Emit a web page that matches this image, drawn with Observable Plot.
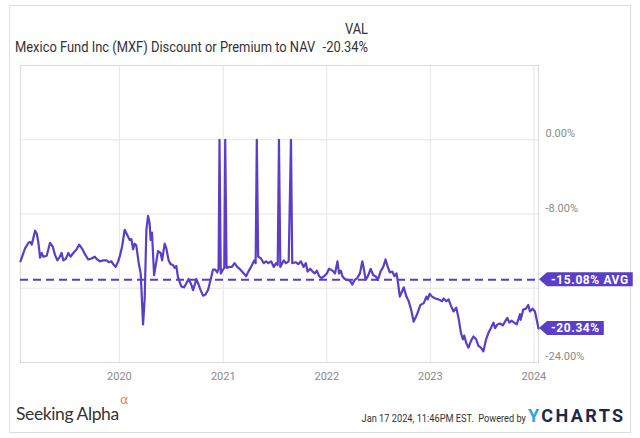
<!DOCTYPE html>
<html>
<head>
<meta charset="utf-8">
<script src="https://cdn.jsdelivr.net/npm/d3@7"></script>
<script src="https://cdn.jsdelivr.net/npm/@observablehq/plot@0.6"></script>
<style>
  html, body { margin: 0; padding: 0; background: #fff; }
  body { width: 640px; height: 438px; position: relative; overflow: hidden; font-family: Roboto, "Noto Sans", sans-serif; }
  #card { position: absolute; left: 9px; top: 5px; width: 620px; height: 426px; border: 1px solid #dcdcdc; border-left-color: #e4e4e4; }
  #chart { position: absolute; left: 0; top: 0; }
  .t { position: absolute; white-space: nowrap; color: #333; line-height: 1; }
  #title { left: 15px; top: 40px; font-size: 15px; transform: scaleX(0.86); transform-origin: left top; }
  #valhead { left: 300px; width: 68px; text-align: right; top: 22px; font-size: 15px; transform: scaleX(0.86); transform-origin: right top; }
  #valnum { left: 300px; width: 68px; text-align: right; top: 40px; font-size: 15px; transform: scaleX(0.86); transform-origin: right top; }
  #sa { left: 16px; top: 405px; font-family: Lato, sans-serif; font-size: 17.5px; color: #333; letter-spacing: -0.4px; }
  #alpha { left: 120px; top: 393px; font-family: "DejaVu Sans", sans-serif; font-size: 13px; color: #f0883e; }
  #stamp { left: 300px; width: 226px; text-align: right; top: 413px; font-size: 11px; color: #333; transform: scaleX(0.84); transform-origin: right top; }
  #yc { left: 528px; top: 407px; font-size: 18px; font-weight: 700; letter-spacing: 2.4px; color: #1e2a4d; }
  #yc span { color: #2aa4e4; }
</style>
</head>
<body>
<div id="card"></div>
<div id="chart"></div>
<div class="t" id="title">Mexico Fund Inc (MXF) Discount or Premium to NAV</div>
<div class="t" id="valhead">VAL</div>
<div class="t" id="valnum">-20.34%</div>
<div class="t" id="sa">Seeking Alpha</div>
<div class="t" id="alpha">α</div>
<div class="t" id="stamp">Jan 17 2024, 11:46PM EST.&nbsp; Powered by</div>
<div class="t" id="yc"><span>Y</span>CHARTS</div>
<script>
// ---- Data (decimal years, premium/discount in %) ----
const years = [
  2019.045, 2019.089, 2019.122, 2019.137, 2019.154, 2019.186, 2019.202, 2019.218, 2019.234, 2019.250,
  2019.266, 2019.298, 2019.330, 2019.356, 2019.378, 2019.401, 2019.426, 2019.442, 2019.459, 2019.484,
  2019.507, 2019.529, 2019.555, 2019.587, 2019.612, 2019.644, 2019.666, 2019.699, 2019.731, 2019.762,
  2019.786, 2019.811, 2019.843, 2019.875, 2019.901, 2019.923, 2019.939, 2019.964, 2019.988, 2020.003,
  2020.026, 2020.051, 2020.077, 2020.099, 2020.115, 2020.132, 2020.147, 2020.163, 2020.186, 2020.205,
  2020.228, 2020.243, 2020.260, 2020.276, 2020.291, 2020.301, 2020.314, 2020.334, 2020.356, 2020.372,
  2020.397, 2020.411, 2020.436, 2020.452, 2020.474, 2020.493, 2020.516, 2020.532, 2020.548, 2020.564,
  2020.596, 2020.622, 2020.644, 2020.666, 2020.692, 2020.709, 2020.724, 2020.740, 2020.763, 2020.782,
  2020.805, 2020.827, 2020.853, 2020.878, 2020.901, 2020.923, 2020.942, 2020.955, 2020.964, 2020.976,
  2020.997, 2021.010, 2021.019, 2021.032, 2021.061, 2021.084, 2021.109, 2021.135, 2021.166, 2021.199,
  2021.221, 2021.243, 2021.269, 2021.286, 2021.301, 2021.313, 2021.324, 2021.337, 2021.365, 2021.391,
  2021.413, 2021.436, 2021.462, 2021.488, 2021.510, 2021.526, 2021.538, 2021.551, 2021.584, 2021.606,
  2021.632, 2021.654, 2021.666, 2021.702, 2021.724, 2021.750, 2021.776, 2021.798, 2021.814, 2021.839,
  2021.863, 2021.885, 2021.904, 2021.926, 2021.949, 2021.974, 2022.000, 2022.022, 2022.055, 2022.080,
  2022.103, 2022.118, 2022.135, 2022.151, 2022.173, 2022.199, 2022.224, 2022.247, 2022.269, 2022.295,
  2022.320, 2022.343, 2022.359, 2022.375, 2022.397, 2022.423, 2022.449, 2022.471, 2022.493, 2022.519,
  2022.545, 2022.567, 2022.589, 2022.608, 2022.632, 2022.654, 2022.673, 2022.686, 2022.705, 2022.728,
  2022.743, 2022.769, 2022.791, 2022.814, 2022.839, 2022.872, 2022.904, 2022.936, 2022.962, 2022.974,
  2022.993, 2023.016, 2023.048, 2023.080, 2023.113, 2023.128, 2023.154, 2023.176, 2023.199, 2023.224,
  2023.250, 2023.272, 2023.295, 2023.314, 2023.327, 2023.346, 2023.368, 2023.391, 2023.416, 2023.442,
  2023.464, 2023.488, 2023.512, 2023.538, 2023.561, 2023.584, 2023.609, 2023.625, 2023.647, 2023.673,
  2023.699, 2023.721, 2023.743, 2023.763, 2023.786, 2023.808, 2023.834, 2023.865, 2023.872, 2023.897,
  2023.923, 2023.945, 2023.962, 2023.987, 2024.010, 2024.044
];
const values = [
  -13.1, -11.7, -11.1, -11.0, -11.3, -9.8, -10.1, -11.1, -12.7, -12.2,
  -12.6, -12.5, -11.1, -11.5, -12.4, -13.0, -12.6, -12.2, -13.0, -12.8,
  -12.2, -12.6, -12.2, -11.8, -11.3, -11.8, -12.3, -12.9, -12.8, -12.6,
  -12.9, -13.1, -13.0, -13.0, -13.2, -13.1, -13.4, -13.7, -13.1, -12.6,
  -11.5, -9.7, -10.3, -10.8, -10.7, -11.8, -11.2, -11.4, -13.3, -14.4,
  -19.9, -17.2, -9.7, -8.2, -9.0, -10.8, -10.0, -14.6, -13.1, -12.0,
  -12.2, -13.0, -11.2, -11.7, -13.0, -13.4, -13.5, -13.8, -13.6, -14.8,
  -15.8, -15.9, -15.5, -15.0, -15.6, -16.2, -15.7, -15.0, -15.6, -16.2,
  -16.8, -16.7, -16.2, -15.1, -14.0, -14.0, -14.3, -13.9, 0.0, -14.4,
  -14.0, -13.8, 0.0, -13.8, -13.7, -13.7, -13.3, -13.7, -14.0, -14.4,
  -14.7, -14.2, -13.7, -13.3, -13.0, -13.3, 0.0, -12.6, -12.8, -13.3,
  -13.1, -13.3, -13.1, -13.7, -13.3, -13.5, 0.0, -13.7, -13.0, -13.3,
  -13.1, 0.0, -13.3, -13.2, -13.4, -13.1, -13.7, -13.3, -14.2, -13.9,
  -14.2, -14.4, -14.1, -14.7, -14.9, -14.7, -14.4, -13.9, -14.1, -14.4,
  -13.1, -14.4, -14.1, -14.7, -15.0, -15.1, -15.2, -15.6, -15.1, -14.9,
  -14.4, -13.1, -14.0, -15.1, -14.7, -13.9, -14.6, -14.7, -15.1, -14.2,
  -13.7, -12.9, -13.7, -14.3, -14.2, -14.7, -14.4, -15.3, -16.9, -16.3,
  -15.9, -16.9, -17.4, -18.3, -19.6, -18.8, -17.8, -17.6, -16.9, -17.2,
  -16.6, -16.9, -17.1, -17.2, -17.4, -17.1, -17.4, -17.2, -17.9, -18.5,
  -18.1, -19.2, -20.8, -21.5, -21.1, -21.9, -22.4, -21.7, -21.2, -21.5,
  -22.2, -22.4, -22.8, -21.5, -20.8, -20.3, -19.7, -20.3, -19.9, -19.8,
  -20.0, -19.6, -19.2, -19.7, -19.5, -19.7, -19.9, -18.8, -19.4, -18.3,
  -18.2, -17.8, -18.5, -18.2, -18.5, -20.34
];
const average = -15.08;
const lastValue = -20.34;
const yTickValues = [0, -8, -24];
const yGridValues = [0, -8, -16];
const xTickYears = [2020, 2021, 2022, 2023, 2024];
const xDomainYears = [2019.045, 2024.044];
const badgeLabels = ["-15.08% AVG", "-20.34%"];

// ---- helpers ----
function yearToDate(y) {
  const yr = Math.floor(y);
  const a = Date.UTC(yr, 0, 1), b = Date.UTC(yr + 1, 0, 1);
  return new Date(a + (y - yr) * (b - a));
}
const data = years.map((y, i) => ({date: yearToDate(y), value: values[i]}));
const xTicks = xTickYears.map(y => new Date(Date.UTC(y, 0, 1)));
const purple = "#5a3ec8";

const measureCtx = document.createElement("canvas").getContext("2d");
function badges(index, scales, vals, dims) {
  const g = d3.create("svg:g");
  const x0 = dims.width - dims.marginRight + 1;
  const items = [[average, badgeLabels[0]], [lastValue, badgeLabels[1]]];
  measureCtx.font = "bold 12px Roboto";
  for (const [v, label] of items) {
    const y = scales.y(v);
    const w = measureCtx.measureText(label).width + label.length * 0.6 + 8;
    const h = 7;
    g.append("path")
      .attr("d", `M${x0},${y} L${x0 + 8},${y - h} L${x0 + 8 + w},${y - h} L${x0 + 8 + w},${y + h} L${x0 + 8},${y + h} Z`)
      .attr("fill", purple);
    g.append("text")
      .attr("x", x0 + 12)
      .attr("y", y)
      .attr("dy", "0.36em")
      .attr("text-anchor", "start")
      .attr("fill", "#fff")
      .attr("font-family", "Roboto, sans-serif")
      .attr("font-weight", 700)
      .attr("font-size", 12)
      .attr("letter-spacing", 0.6)
      .text(label);
  }
  return g.node();
}

const chart = Plot.plot({
  width: 640,
  height: 400,
  marginLeft: 20,
  marginRight: 102,
  marginTop: 65,
  marginBottom: 38,
  style: {fontFamily: "Roboto, sans-serif", background: "transparent", overflow: "visible"},
  x: {type: "utc", domain: xDomainYears.map(yearToDate), axis: null},
  y: {domain: [-24, 8], axis: null},
  marks: [
    Plot.gridX(xTicks, {stroke: "#e6e6e6", strokeOpacity: 1, strokeWidth: 1}),
    Plot.gridY(yGridValues, {stroke: "#e6e6e6", strokeOpacity: 1, strokeWidth: 1}),
    Plot.frame({stroke: "#dadada"}),
    Plot.axisX(xTicks, {tickSize: 0, tickPadding: 10, fontSize: 11, fill: "#8a8a8a", label: null,
      tickFormat: d => String(d.getUTCFullYear())}),
    Plot.axisY(yTickValues, {anchor: "right", tickSize: 0, tickPadding: 7, fontSize: 11, fill: "#8a8a8a", label: null,
      dy: -6, tickFormat: d => d.toFixed(2) + "%"}),
    Plot.ruleY([average], {stroke: purple, strokeWidth: 2, strokeDasharray: "8,5"}),
    Plot.lineY(data, {x: "date", y: "value", stroke: purple, strokeWidth: 2.2, strokeLinejoin: "round"}),
    badges
  ]
});
document.getElementById("chart").appendChild(chart);
</script>
</body>
</html>
